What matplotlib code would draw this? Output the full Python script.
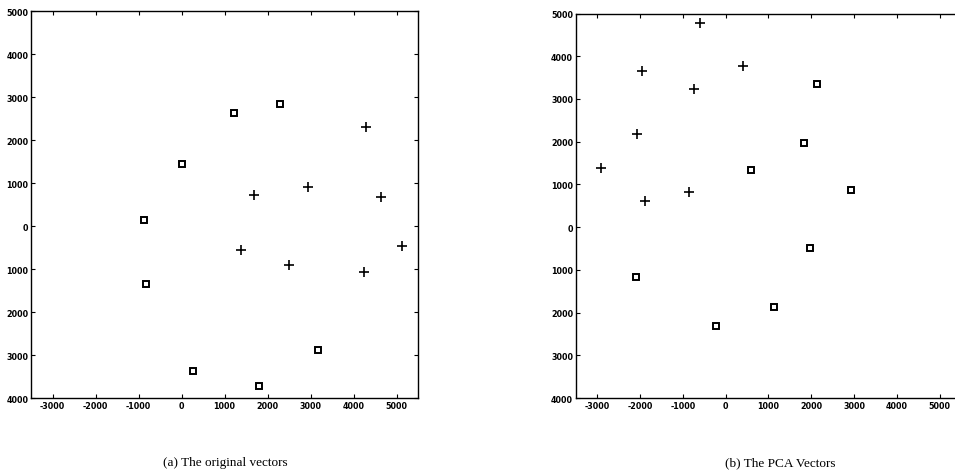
import matplotlib.pyplot as plt
import numpy as np

# (a) original vectors
orig_sq_x = [1216, 2295, 21, -865, -827, 260, 1802, 3166]
orig_sq_y = [2639, 2848, 1432, 132, -1347, -3382, -3723, -2895]
orig_pl_x = [4291, 2950, 1694, 4645, 5139, 1393, 2495, 4245]
orig_pl_y = [2314, 898, 712, 666, -457, -565, -898, -1060]

# (b) PCA vectors
pca_pl_x = [-611, -1965, 416, -751, -2066, -2922, -1879, -852]
pca_pl_y = [4774, 3665, 3782, 3228, 2190, 1378, 621, 824]
pca_sq_x = [2136, 1840, 603, 2930, 1981, -2097, 1140, -237]
pca_sq_y = [3353, 1963, 1347, 870, -496, -1167, -1862, -2307]

x_ticks = [-3000, -2000, -1000, 0, 1000, 2000, 3000, 4000, 5000]
x_labels = ["-3000", "-2000", "-1000", "0", "1000", "2000", "3000", "4000", "5000"]
y_ticks = [5000, 4000, 3000, 2000, 1000, 0, -1000, -2000, -3000, -4000]
y_labels = ["5000", "4000", "3000", "2000", "1000", "0", "1000", "2000", "3000", "4000"]

captions = ["(a) The original vectors", "(b) The PCA Vectors"]

fig = plt.figure(figsize=(9.55, 4.77), dpi=100)

def setup_axes(ax):
    ax.set_xlim(-3500, 5500)
    ax.set_ylim(-4000, 5000)
    ax.set_xticks(x_ticks)
    ax.set_xticklabels(x_labels)
    ax.set_yticks(y_ticks)
    ax.set_yticklabels(y_labels)
    ax.tick_params(direction="in", length=3, width=0.8, labelsize=5.8,
                   top=True, right=True, pad=2)
    for lab in ax.get_xticklabels() + ax.get_yticklabels():
        lab.set_fontweight("bold")
    for sp in ax.spines.values():
        sp.set_linewidth(1.0)

ax1 = fig.add_axes([0.0325, 0.1635, 0.4052, 0.8113])
ax1.plot(orig_sq_x, orig_sq_y, "ks", mfc="white", ms=5, mew=1.4, ls="none")
ax1.plot(orig_pl_x, orig_pl_y, "k+", ms=6.5, mew=1.2, ls="none")
setup_axes(ax1)

ax2 = fig.add_axes([0.603, 0.1635, 0.4034, 0.806])
ax2.plot(pca_pl_x, pca_pl_y, "k+", ms=6.5, mew=1.2, ls="none")
ax2.plot(pca_sq_x, pca_sq_y, "ks", mfc="white", ms=5, mew=1.4, ls="none")
setup_axes(ax2)

fig.text(225 / 955, 1 - 463 / 477, captions[0], ha="center", va="center",
         fontsize=9.5, family="Liberation Serif")
fig.text(780 / 955, 1 - 463 / 477, captions[1], ha="center", va="center",
         fontsize=9.5, family="Liberation Serif")

plt.savefig("out.png", dpi=100)
